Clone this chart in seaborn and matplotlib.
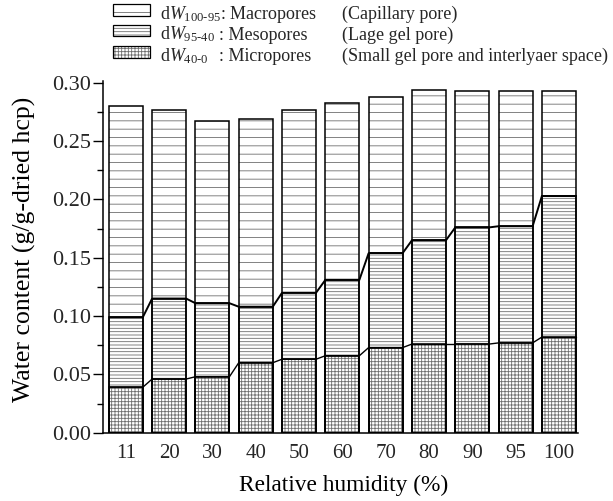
import matplotlib
matplotlib.use("Agg")
import matplotlib.pyplot as plt
from matplotlib.patches import Rectangle
import seaborn as sns
import numpy as np
import pandas as pd

# ---- data ----
humidity = ["11", "20", "30", "40", "50", "60", "70", "80", "90", "95", "100"]
micro = [0.039, 0.046, 0.048, 0.060, 0.063, 0.066, 0.073, 0.076, 0.076, 0.077, 0.082]   # dW40-0
meso = [0.060, 0.069, 0.063, 0.048, 0.057, 0.065, 0.081, 0.089, 0.100, 0.100, 0.121]    # dW95-40
macro = [0.181, 0.162, 0.1565, 0.161, 0.157, 0.152, 0.134, 0.129, 0.117, 0.116, 0.090]  # dW100-95

legend_symbols = [r"d$W_{\mathregular{100\text{-}95}}$", r"d$W_{\mathregular{95\text{-}40}}$",
                  r"d$W_{\mathregular{40\text{-}0}}$"]
legend_names = ["Macropores", "Mesopores", "Micropores"]
legend_notes = ["(Capillary pore)", "(Lage gel pore)",
                "(Small gel pore and interlyaer space)"]

sns.set_theme(style="ticks")
plt.rcParams["font.family"] = ["Liberation Serif", "DejaVu Serif"]
plt.rcParams["mathtext.fontset"] = "custom"
plt.rcParams["mathtext.rm"] = "Liberation Serif"
plt.rcParams["mathtext.it"] = "Liberation Serif:italic"
plt.rcParams["hatch.linewidth"] = 0.6

df = pd.DataFrame({"rh": humidity, "micro": micro, "meso": meso, "macro": macro})
df["cum_meso"] = df["micro"] + df["meso"]
df["total"] = df["cum_meso"] + df["macro"]

fig = plt.figure(figsize=(6.13, 5.01), dpi=100)
ax = fig.add_axes([0.1685, 0.1363, 0.7744, 0.703])

W = 0.785
hatch_col = "#6e6e6e"
layers = [("total", "--"), ("cum_meso", "-----"), ("micro", "+++++")]
for col, h in layers:
    n_before = len(ax.patches)
    sns.barplot(data=df, x="rh", y=col, order=humidity, color="white",
                edgecolor=hatch_col, linewidth=0, hatch=h, width=W,
                saturation=1, ax=ax, errorbar=None)
    for p in list(ax.patches)[n_before:]:
        ax.add_patch(Rectangle(p.get_xy(), p.get_width(), p.get_height(),
                               fill=False, edgecolor="black", linewidth=1.1,
                               zorder=p.get_zorder() + 0.01))

# connecting lines between adjacent bars
xs = np.arange(len(humidity))
for col, lw in [("micro", 1.0), ("cum_meso", 1.4)]:
    vals = df[col].to_numpy()
    for i in range(len(xs) - 1):
        ax.plot([xs[i] - W / 2, xs[i] + W / 2, xs[i + 1] - W / 2],
                [vals[i], vals[i], vals[i + 1]], color="black", lw=lw,
                zorder=5, solid_capstyle="butt")
    ax.plot([xs[-1] - W / 2, xs[-1] + W / 2], [vals[-1], vals[-1]],
            color="black", lw=lw, zorder=5)

ax.set_xlim(-0.52, 10.44)
ax.set_ylim(0, 0.3019)
ax.set_yticks(np.arange(0, 0.301, 0.05))
ax.set_yticklabels([f"{v:.2f}" for v in np.arange(0, 0.301, 0.05)])
ax.set_yticks(np.arange(0.025, 0.3, 0.05), minor=True)
ax.tick_params(axis="y", which="major", length=7, width=1, labelsize=16, color="black", pad=2)
ax.tick_params(axis="y", which="minor", length=4, width=1, color="black")
ax.tick_params(axis="x", length=0, labelsize=15, pad=8)
for s in ["top", "right"]:
    ax.spines[s].set_visible(False)
for s in ["left", "bottom"]:
    ax.spines[s].set_color("black")
    ax.spines[s].set_linewidth(1.1)
ax.set_xlabel("Relative humidity (%)", fontsize=16.8, color="black", va="center")
ax.set_ylabel("Water content (g/g-dried hcp)", fontsize=18.5, color="black", va="center")
ax.xaxis.set_label_coords(0.506, -0.151)
ax.yaxis.set_label_coords(-0.167, 0.52)

# legend (manual, in figure pixel coordinates)
fw, fh = 613, 501
baselines = [19, 39.5, 61]
hatches = ["--", "-----", "+++++"]
for i, (bl, h, sym, name, note) in enumerate(zip(baselines, hatches, legend_symbols,
                                                 legend_names, legend_notes)):
    y0 = 1 - (bl - 3.5) / fh
    r = Rectangle((113 / fw, y0), 37 / fw, 11 / fh, transform=fig.transFigure,
                  facecolor="white", edgecolor=hatch_col, linewidth=0, hatch=h)
    fig.add_artist(r)
    fig.add_artist(Rectangle((113 / fw, y0), 37 / fw, 11 / fh, transform=fig.transFigure,
                             fill=False, edgecolor="black", linewidth=0.9))
    yb = 1 - bl / fh
    if i == 0:
        fig.text(160 / fw, yb, sym + ": " + name, fontsize=13, va="baseline", ha="left")
    else:
        fig.text(160 / fw, yb, sym, fontsize=13, va="baseline", ha="left")
        fig.text(219 / fw, yb, ": " + name, fontsize=13, va="baseline", ha="left")
    fig.text(342 / fw, yb, note, fontsize=13, va="baseline", ha="left")

fig.savefig("out.png", dpi=100)
